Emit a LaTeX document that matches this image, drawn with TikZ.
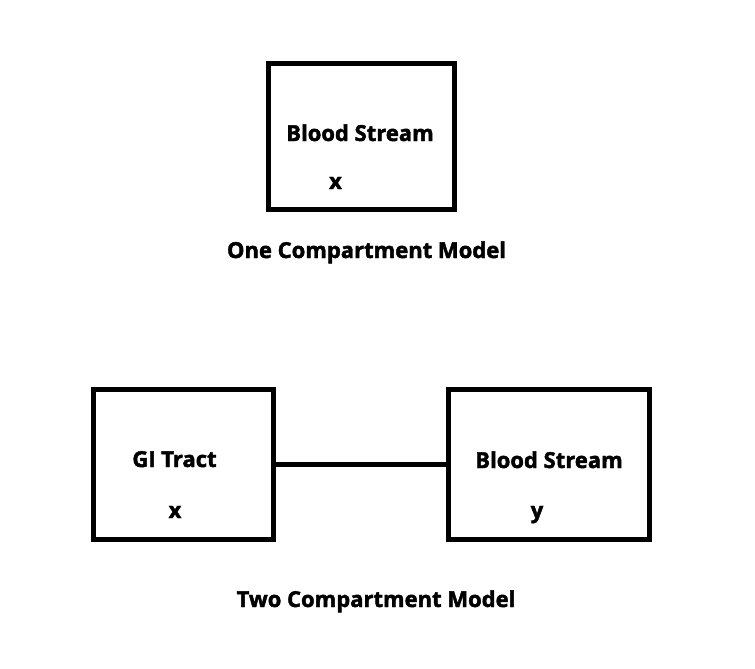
\documentclass[tikz,border=0pt]{standalone}
\usepackage{fontspec}
\setmainfont{Open Sans}[BoldFeatures={FakeBold=2}]
\usetikzlibrary{positioning}
\tikzstyle{compart}=[draw,line width=5pt,rectangle,inner sep=0pt]
\tikzstyle{lbl}=[text=black,inner sep=0pt,anchor=base,font=\fontsize{22}{26}\selectfont\bfseries]
\tikzstyle{lien}=[line width=5pt]

\begin{document}
\begin{tikzpicture}[x=1pt,y=-1pt]
\useasboundingbox[fill=white] (0,0) rectangle (755,669);
\node[compart,minimum width=186pt,minimum height=146pt] (bs1) at (361.5,136.5) {};
\node[compart,minimum width=180pt,minimum height=150pt] (gi) at (183.5,464.5) {};
\node[compart,minimum width=201pt,minimum height=150pt] (bs2) at (549,464.5) {};
%Textes
\node[lbl] (t1) at (360,141) {Blood Stream};
\node[lbl] (v1) at (335.5,189) {x};
\node[lbl] (m1) at (366.5,258) {One Compartment Model};
\node[lbl] (t2) at (174.5,467) {GI Tract};
\node[lbl] (v2) at (175,518) {x};
\node[lbl] (t3) at (549,468) {Blood Stream};
\node[lbl] (v3) at (537,518) {y};
\node[lbl] (m2) at (376,607) {Two Compartment Model};
%Liaison
\draw[lien] (gi) -- (bs2);
\end{tikzpicture}
\end{document}
